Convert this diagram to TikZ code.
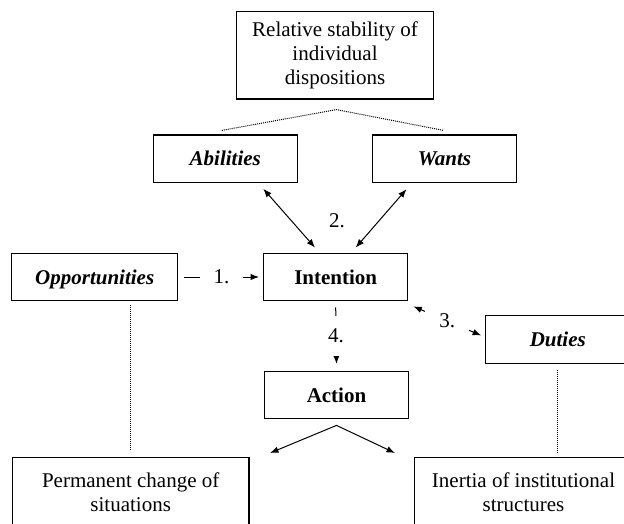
\documentclass[tikz,border=0pt]{standalone}
\usepackage{fontspec}
\setmainfont{Liberation Serif}
\usetikzlibrary{arrows.meta,calc}
\newcommand{\diagfont}{\fontsize{21}{24}\selectfont}
\tikzset{
  box/.style={draw, line width=1.3pt, align=center, inner sep=0pt},
  keybox/.style={box, minimum width=144pt, minimum height=47.5pt,
    text height=14pt, text depth=0pt, font=\diagfont\bfseries},
  sourcebox/.style={keybox, font=\diagfont\bfseries\itshape},
  bigbox/.style={box, minimum height=70.4pt},
  link/.style={line width=1pt, >={Latex[length=8.5pt,width=6.5pt]}},
  numlabel/.style={fill=white, inner xsep=14pt, inner ysep=13pt},
  tie/.style={line width=1pt, dash pattern=on 1pt off 1pt}
}

\begin{document}
\begin{tikzpicture}[x=1pt, y=-1pt, font=\diagfont]
  \useasboundingbox (0,0) rectangle (624,524);
  \clip (0,0) rectangle (624,524);

  \node[box, minimum width=196.6pt, minimum height=87.3pt] (stab) at (335,55.3)
    {Relative stability of\\individual\\dispositions};
  \node[sourcebox] (abil) at (225.3,158.8) {Abilities};
  \node[sourcebox] (wants) at (444.5,158.8) {Wants};
  \node[sourcebox, minimum width=166pt] (opp) at (94.7,277) {Opportunities};
  \node[keybox] (int) at (335.7,277) {Intention};
  \node[sourcebox] (duties) at (557.8,339.5) {Duties};
  \node[keybox] (action) at (336.5,395) {Action};
  \node[bigbox, minimum width=236.7pt] (perm) at (130.7,492.5)
    {Permanent change of\\situations};
  \node[bigbox, minimum width=217.6pt] (inertia) at (523.5,492.5)
    {Inertia of institutional\\structures};

  % dispositions
  \draw[tie] ([xshift=-3.5pt, yshift=4pt]abil.north) -- ([xshift=1.5pt, yshift=-10pt]stab.south)
    -- ([xshift=-1pt, yshift=4pt]wants.north);

  % 2.
  \draw[link, <->] ([xshift=38pt, yshift=-5.6pt]abil.south) -- ([xshift=-20.7pt, yshift=5pt]int.north);
  \draw[link, <->] ([xshift=-38pt, yshift=-6pt]wants.south) -- ([xshift=20pt, yshift=5pt]int.north);
  \node (two) at (337,221) {2.};

  % 1. 3. 4.
  \draw[link, ->] ([xshift=5.6pt]opp.east) -- node[numlabel] (one) {1.} ([xshift=-4pt]int.west);
  \draw[link, <->] ([xshift=5pt, yshift=-5pt]int.south east)
    -- node[numlabel] (three) {3.} ([xshift=-4pt, yshift=4pt]duties.west);
  \draw[link, ->] ([yshift=-6pt]int.south) -- node[numlabel] (four) {4.} ([yshift=6.7pt]action.north);

  \coordinate (leftend) at (270,453);
  \coordinate (rightend) at (395,453);
  \draw[link, <->] (leftend) -- ([yshift=-6pt]action.south) -- (rightend);

  \draw[tie] ($(opp.south -| perm.north)+(0,4)$) -- ($(perm.north)+(0,-6)$);
  \draw[tie] ($(duties.south)+(0,6)$) -- ($(duties.south |- inertia.north)+(0,-4)$);
\end{tikzpicture}
\end{document}
